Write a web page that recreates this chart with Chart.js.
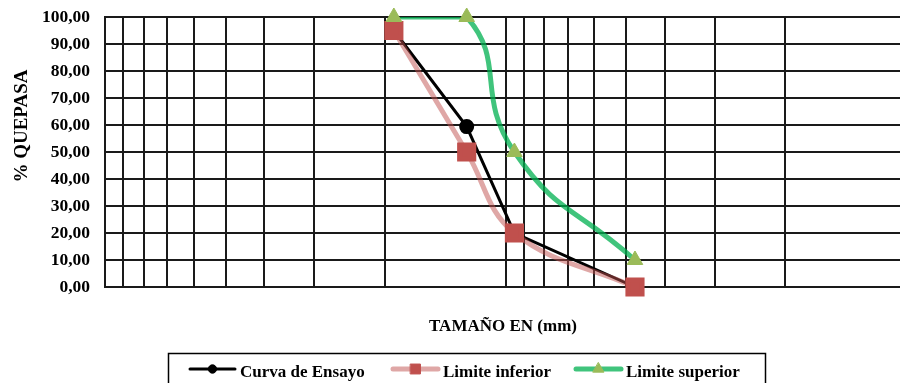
<!DOCTYPE html>
<html>
<head>
<meta charset="utf-8">
<script src="https://cdn.jsdelivr.net/npm/chart.js@4.4.0/dist/chart.umd.min.js"></script>
<style>
  html, body { margin: 0; padding: 0; background: #fff; overflow: hidden; }
  #wrap { width: 900px; height: 383px; overflow: hidden; }
</style>
</head>
<body>
<div id="wrap"><canvas id="granulometria" width="910" height="383"></canvas></div>
<script>
// tamices (mm) y % que pasa
const tamices = [19, 12.5, 9.5, 4.75];
const curvaEnsayo = [95, 59.4, 20, 0];
const limiteInferior = [95, 50, 20, 0];
const limiteSuperior = [100, 100, 50, 10];

// lineas verticales de la escala log (mm) y ticks del eje y
const gridTamices = [1, 2, 3, 4, 5, 6, 7, 8, 9, 10, 20, 30, 40, 50, 60, 70, 80, 90, 100];
const ticksPorcentaje = [0, 10, 20, 30, 40, 50, 60, 70, 80, 90, 100];

const nombres = ['Curva de Ensayo', 'Limite inferior', 'Limite superior'];
const tituloY = '% QUEPASA';
const tituloX = 'TAMAÑO EN (mm)';

const serif = "'Liberation Serif', 'Times New Roman', serif";
const lineaGrid = '#1a1a1a';

function puntos(valores) {
    return tamices.map((t, i) => ({ x: t, y: valores[i] }));
}

// leyenda, titulos de ejes (dibujados a mano como en excel)
const extras = {
    id: 'extras',
    afterDraw(chart) {
        const ctx = chart.ctx;
        const ds = chart.data.datasets;
        ctx.save();
        ctx.fillStyle = '#000';

        // titulo eje y
        ctx.save();
        ctx.translate(22, 126);
        ctx.rotate(-Math.PI / 2);
        ctx.font = 'bold 19px ' + serif;
        ctx.textAlign = 'center';
        ctx.textBaseline = 'middle';
        ctx.fillText(tituloY, 0, 0);
        ctx.restore();

        // titulo eje x
        ctx.font = 'bold 17px ' + serif;
        ctx.textAlign = 'center';
        ctx.textBaseline = 'alphabetic';
        ctx.fillText(tituloX, 503, 331);

        // caja leyenda
        ctx.strokeStyle = '#000';
        ctx.lineWidth = 1.5;
        ctx.strokeRect(168.5, 353.5, 597, 60);

        const items = [
            { linea: ds[0], punto: ds[0], x0: 190 },
            { linea: ds[1], punto: ds[1], x0: 393 },
            { linea: ds[2], punto: ds[3], x0: 576 }
        ];
        const yl = 369;
        items.forEach((it, i) => {
            ctx.strokeStyle = it.linea.borderColor;
            ctx.lineWidth = it.linea.borderWidth;
            ctx.lineCap = 'round';
            ctx.beginPath();
            ctx.moveTo(it.x0, yl);
            ctx.lineTo(it.x0 + 45, yl);
            ctx.stroke();

            ctx.fillStyle = it.punto.pointBackgroundColor;
            ctx.strokeStyle = it.punto.pointBorderColor;
            ctx.lineWidth = 1;
            Chart.helpers.drawPoint(ctx, {
                pointStyle: it.punto.pointStyle,
                radius: it.punto.pointRadius * 0.7,
                rotation: 0,
                borderWidth: 1
            }, it.x0 + 22.5, yl);

            ctx.fillStyle = '#000';
            ctx.font = 'bold 17px ' + serif;
            ctx.textAlign = 'left';
            ctx.fillText(nombres[i], it.x0 + 50, 376.5);
        });
        ctx.restore();
    }
};

new Chart(document.getElementById('granulometria'), {
    type: 'scatter',
    data: {
        datasets: [{
            label: nombres[0],
            data: puntos(curvaEnsayo),
            showLine: true,
            borderColor: '#000',
            borderWidth: 3,
            tension: 0,
            pointStyle: 'circle',
            pointRadius: 6,
            pointBackgroundColor: '#000',
            pointBorderColor: '#000',
            clip: false,
            order: 4
        }, {
            label: nombres[1],
            data: puntos(limiteInferior),
            showLine: true,
            borderColor: 'rgba(192,80,77,0.5)',
            borderWidth: 5,
            borderCapStyle: 'round',
            tension: 0.4,
            pointStyle: 'rect',
            pointRadius: 10,
            pointBackgroundColor: '#C0504D',
            pointBorderColor: '#C0504D',
            clip: false,
            order: 3
        }, {
            // linea del limite superior (recortada al area del grafico)
            label: nombres[2],
            data: puntos(limiteSuperior),
            showLine: true,
            borderColor: 'rgba(0,176,80,0.75)',
            borderWidth: 5,
            borderCapStyle: 'round',
            tension: 0.5,
            pointRadius: 0,
            clip: 0,
            order: 2
        }, {
            // marcadores del limite superior
            label: nombres[2],
            data: puntos(limiteSuperior),
            showLine: false,
            pointStyle: 'triangle',
            pointRadius: 9,
            pointBackgroundColor: '#9BBB59',
            pointBorderColor: '#9BBB59',
            clip: false,
            order: 1
        }]
    },
    options: {
        responsive: false,
        devicePixelRatio: 1,
        animation: false,
        layout: { autoPadding: false, padding: { left: 0, right: 4, top: 17, bottom: 0 } },
        plugins: {
            legend: { display: false },
            tooltip: { enabled: false }
        },
        scales: {
            x: {
                type: 'logarithmic',
                reverse: true,
                min: 1,
                max: 100,
                afterBuildTicks: (scale) => {
                    scale.ticks = gridTamices.map(v => ({ value: v }));
                },
                afterFit: (scale) => { scale.height = 96; },
                ticks: { display: false },
                grid: { color: lineaGrid, lineWidth: 2, drawTicks: false },
                border: { color: lineaGrid, width: 2 }
            },
            y: {
                min: 0,
                max: 100,
                afterBuildTicks: (scale) => {
                    scale.ticks = ticksPorcentaje.map(v => ({ value: v }));
                },
                afterFit: (scale) => { scale.width = 105; },
                ticks: {
                    color: '#000',
                    padding: 0,
                    font: { family: serif, size: 17.5, weight: 'bold' },
                    callback: (v) => v.toFixed(2).replace('.', ',')
                },
                // marcas invisibles: solo separan las etiquetas del eje
                grid: { color: lineaGrid, lineWidth: 2, drawTicks: true, tickLength: 15, tickColor: 'rgba(0,0,0,0)' },
                border: { color: lineaGrid, width: 2 }
            }
        }
    },
    plugins: [extras]
});
</script>
</body>
</html>
